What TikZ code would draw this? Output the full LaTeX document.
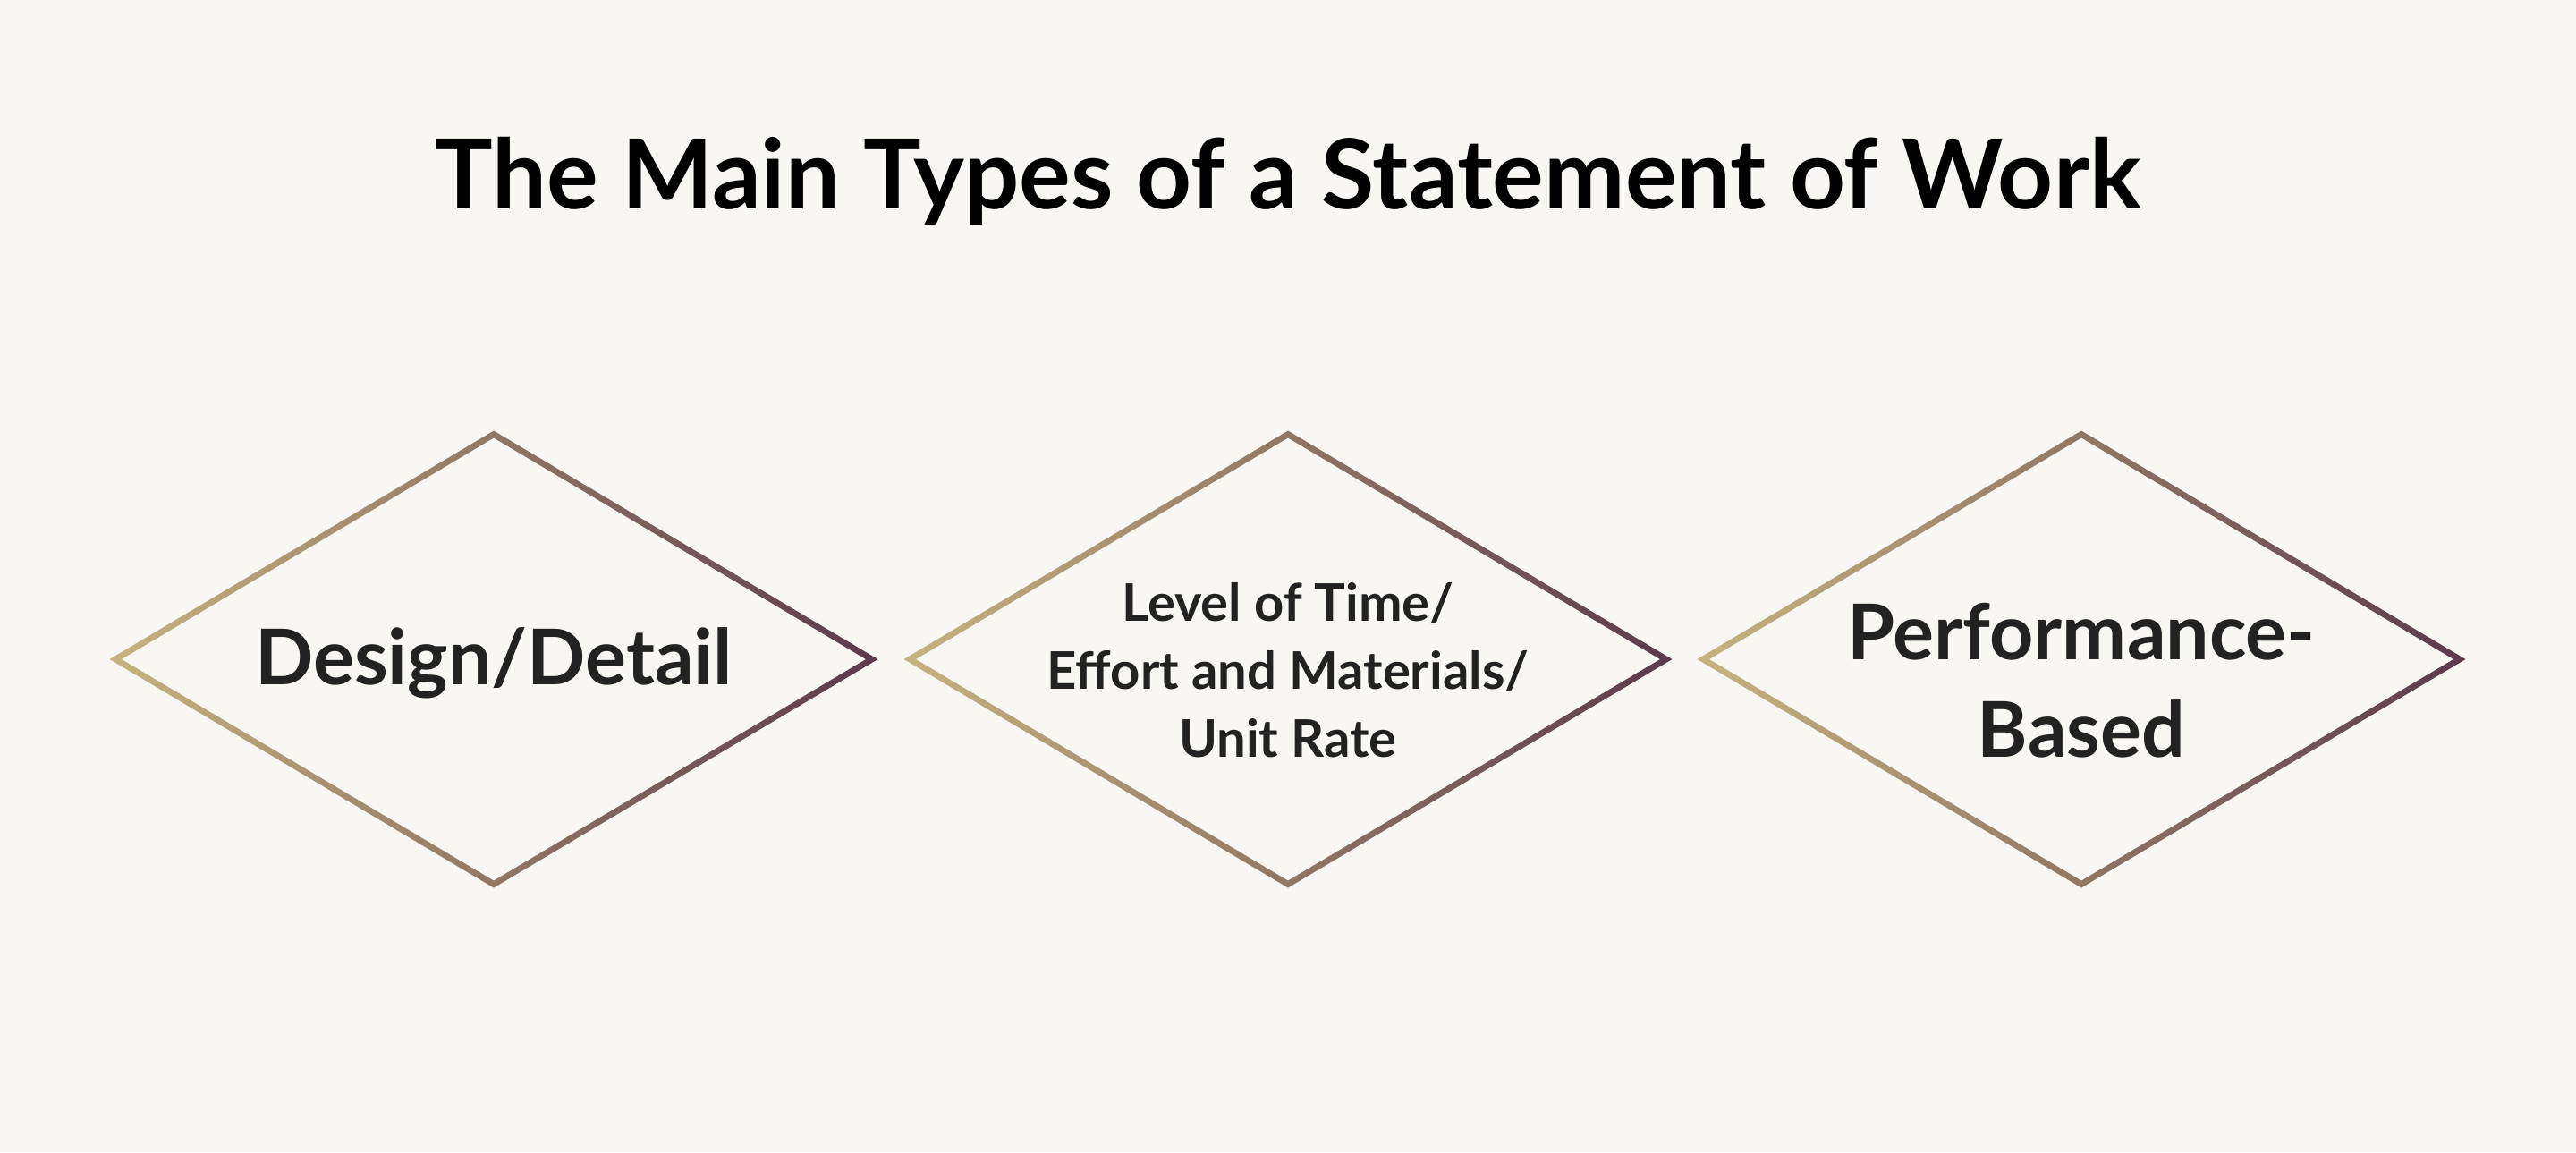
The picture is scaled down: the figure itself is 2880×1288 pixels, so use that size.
\documentclass[tikz,border=0pt]{standalone}
\usepackage{fontspec}
\setmainfont{Lato}
\usetikzlibrary{positioning,calc}

\definecolor{bgcream}{HTML}{F8F7F3}
\definecolor{sandtan}{HTML}{C6B47F}
\definecolor{plumdark}{HTML}{5A3A4C}
\definecolor{inkgrey}{HTML}{222222}

\tikzset{
  titletext/.style={anchor=base, inner sep=0pt, text=black,
    font=\bfseries\fontsize{108}{110}\selectfont},
  typetext/.style={anchor=base, inner sep=0pt, align=center, text=inkgrey,
    font=\bfseries\fontsize{86}{109}\selectfont},
  smalltext/.style={anchor=base, inner sep=0pt, align=center, text=inkgrey,
    font=\bfseries\fontsize{58}{76}\selectfont},
}

% outline of one diamond, shaded from left to right
\newcommand{\typediamond}[1]{%
  \shade[left color=sandtan, right color=plumdark, even odd rule]
    ($(#1)+(-429.5,0)$) -- ($(#1)+(0,-255.5)$) -- ($(#1)+(429.5,0)$) -- ($(#1)+(0,255.5)$) -- cycle
    ($(#1)+(-416,0)$) -- ($(#1)+(0,-247.5)$) -- ($(#1)+(416,0)$) -- ($(#1)+(0,247.5)$) -- cycle;
}

\begin{document}
\begin{tikzpicture}[x=1pt,y=1pt,yscale=-1,xscale=1]
\fill[bgcream] (0,0) rectangle (2880,1288);
\useasboundingbox (0,0) rectangle (2880,1288);

% Title
\node[titletext] (title) at (1440,233) {The Main Types of a Statement of Work};

% Diamond centres
\coordinate (design) at (552,737);
\coordinate (level) at (1440,737);
\coordinate (perform) at (2327,737);

\typediamond{design}
\typediamond{level}
\typediamond{perform}

% Text Node
\node[typetext] (designlabel) at (552,765) {Design/Detail};
% Text Node
\node[smalltext] (levellabel) at (1440,846) {Level of Time/\\Effort and Materials/\\Unit Rate};
% Text Node
\node[typetext] (performlabel) at (2327,846) {Performance-\\Based};

\end{tikzpicture}
\end{document}
